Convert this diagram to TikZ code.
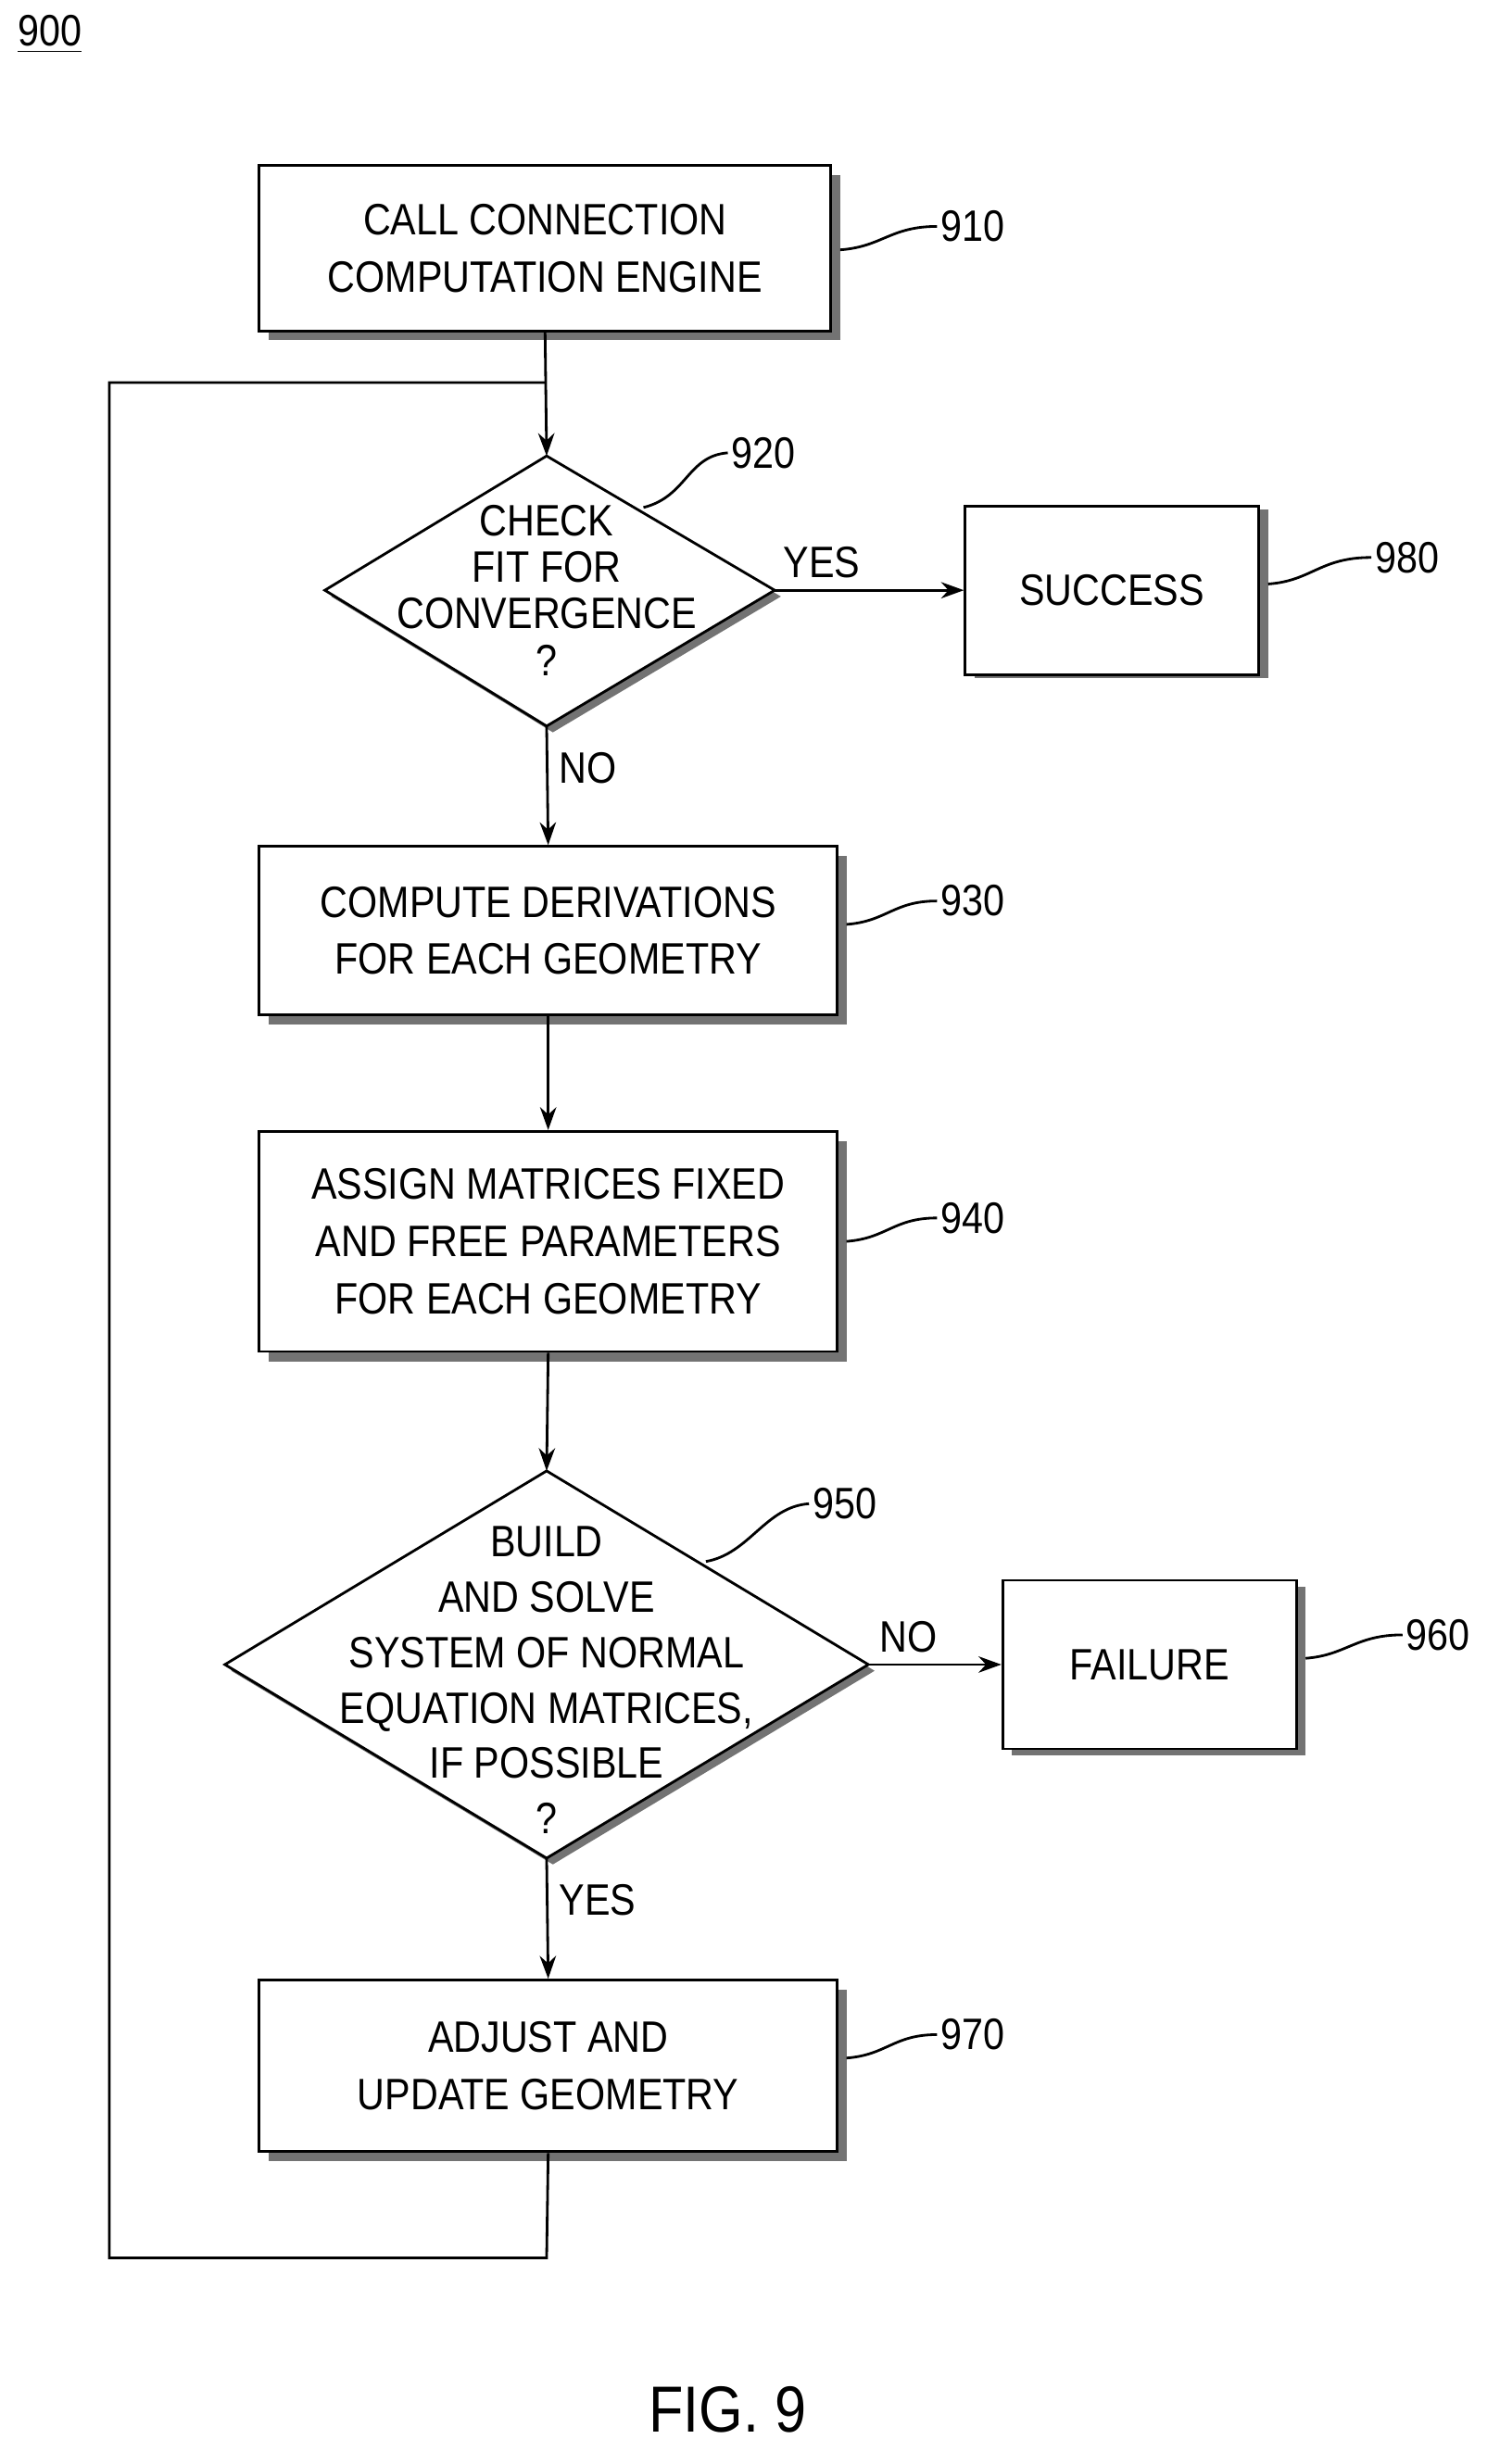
\documentclass[tikz,border=0pt]{standalone}
\usepackage{fontspec}
\setmainfont[FakeStretch=0.87]{Liberation Sans}
\usetikzlibrary{arrows.meta}
\tikzset{
  box/.style={draw, thick, fill=white, align=center, minimum width=#1*0.01685cm,
    font=\fontsize{13.5}{17.5}\selectfont},
  box/.default=370,
  decision/.style={align=center, inner sep=0pt, font=\fontsize{13.5}{#1}\selectfont},
  decision/.default=17,
  shadow/.style={fill=black!55, draw=none},
  ref/.style={font=\fontsize{13.5}{16}\selectfont, anchor=west, inner sep=1pt},
  lbl/.style={font=\fontsize{13.5}{16}\selectfont},
  flow/.style={thick, -{Stealth[length=7pt,width=5pt]}},
  lead/.style={thick}
}
\begin{document}
\begin{tikzpicture}[x=0.01685cm, y=-0.01685cm]
\useasboundingbox (0,0) rectangle (960,1578);

% figure number
\node[lbl] at (32,22) {\underline{900}};

% shadows
\fill[shadow] (172,112) rectangle (538,218);
\fill[shadow] (624,326) rectangle (812,434);
\fill[shadow] (172,548) rectangle (542,656);
\fill[shadow] (172,731) rectangle (542,872);
\fill[shadow] (648,1016) rectangle (836,1124);
\fill[shadow] (172,1274) rectangle (542,1384);
\fill[shadow] (354,296) -- (500,382) -- (354,469) -- (212,382) -- cycle;
\fill[shadow] (354,946) -- (560,1070) -- (354,1194) -- (148,1070) -- cycle;

% boxes
\node[box=366, minimum height=106*0.01685cm] (engine) at (349,159) {CALL CONNECTION\\COMPUTATION ENGINE};
\draw[thick, fill=white] (350,292) coordinate (fit-n) -- (496,378) coordinate (fit-e)
  -- (350,465) coordinate (fit-s) -- (208,378) -- cycle;
\node[decision=14.3] (fit) at (350,378) {CHECK\\FIT FOR\\CONVERGENCE\\?};
\node[box=188, minimum height=108*0.01685cm] (success) at (712,378) {SUCCESS};
\node[box=370, minimum height=108*0.01685cm] (deriv) at (351,596) {COMPUTE DERIVATIONS\\FOR EACH GEOMETRY};
\node[box=370, minimum height=141*0.01685cm] (assign) at (351,795) {ASSIGN MATRICES FIXED\\AND FREE PARAMETERS\\FOR EACH GEOMETRY};
\draw[thick, fill=white] (350,942) coordinate (solve-n) -- (556,1066) coordinate (solve-e)
  -- (350,1190) coordinate (solve-s) -- (144,1066) -- cycle;
\node[decision] (solve) at (350,1076) {BUILD\\AND SOLVE\\SYSTEM OF NORMAL\\EQUATION MATRICES,\\IF POSSIBLE\\?};
\node[box=188, minimum height=108*0.01685cm] (failure) at (736,1066) {FAILURE};
\node[box=370, minimum height=110*0.01685cm] (adjust) at (351,1323) {ADJUST AND\\UPDATE GEOMETRY};

% connectors
\coordinate (join) at (350,245);
\draw[flow] (engine.south) -- (fit-n);
\draw[flow] (fit-e) -- node[lbl, above, pos=0.25] {YES} (success.west);
\draw[flow] (fit-s) -- node[lbl, right, pos=0.35] {NO} (deriv.north);
\draw[flow] (deriv) -- (assign);
\draw[flow] (assign.south) -- (solve-n);
\draw[flow] (solve-e) -- node[lbl, above, pos=0.3] {NO} (failure.west);
\draw[flow] (solve-s) -- node[lbl, right, pos=0.35] {YES} (adjust.north);
\draw[thick] (adjust.south) -- (350,1446) -- (70,1446) -- (70,245) -- (join);

% reference numerals
\node[ref] (n910) at (600,145) {910};
\node[ref] (n920) at (466,290) {920};
\node[ref] (n980) at (878,357) {980};
\node[ref] (n930) at (600,577) {930};
\node[ref] (n940) at (600,780) {940};
\node[ref] (n950) at (518,963) {950};
\node[ref] (n960) at (898,1047) {960};
\node[ref] (n970) at (600,1303) {970};
\draw[lead] (538,160) .. controls (565,158) and (570,145) .. (n910.west);
\draw[lead] (412,325) .. controls (440,318) and (440,292) .. (n920.west);
\draw[lead] (812,374) .. controls (840,372) and (845,357) .. (n980.west);
\draw[lead] (542,592) .. controls (568,590) and (572,577) .. (n930.west);
\draw[lead] (542,795) .. controls (568,793) and (572,780) .. (n940.west);
\draw[lead] (452,1000) .. controls (480,995) and (490,965) .. (n950.west);
\draw[lead] (836,1062) .. controls (862,1060) and (868,1047) .. (n960.west);
\draw[lead] (542,1318) .. controls (568,1316) and (572,1303) .. (n970.west);

\node[font=\fontsize{20}{24}\selectfont] (fig) at (466,1543) {FIG. 9};
\end{tikzpicture}
\end{document}
